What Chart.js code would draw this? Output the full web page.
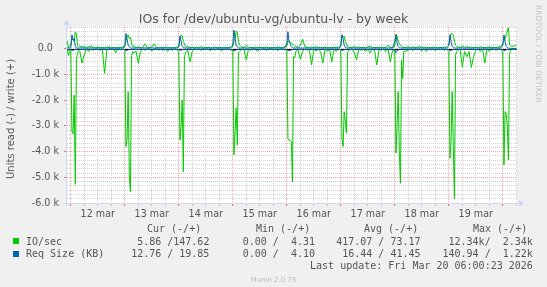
<!DOCTYPE html>
<html><head><meta charset="utf-8">
<script src="https://cdn.jsdelivr.net/npm/chart.js@4/dist/chart.umd.min.js"></script>
<style>
html,body{margin:0;padding:0;background:#F0F0F0;}
#wrap{position:relative;width:547px;height:287px;overflow:hidden;background:#F0F0F0;}
canvas{position:absolute;left:0;top:0;}
.t{position:absolute;white-space:pre;color:#555;font-family:'DejaVu Sans';}
.m{position:absolute;white-space:pre;color:#555;font-family:'DejaVu Sans Mono';font-size:10px;line-height:12px;}
.sq{position:absolute;width:6px;height:6px;}
</style></head><body>
<div id="wrap">
<canvas id="c" width="547" height="287"></canvas>
<div class="t" style="left:0;width:547px;text-align:center;top:11px;font-size:12.5px;line-height:16px;">IOs for /dev/ubuntu-vg/ubuntu-lv - by week</div>
<div class="t" style="left:533.5px;top:5px;font-size:7.6px;color:#c4c4c4;writing-mode:vertical-rl;line-height:9px;">RRDTOOL / TOBI OETIKER</div>
<div class="t" style="left:11px;top:119px;font-size:10px;line-height:12px;transform:translate(-50%,-50%) rotate(-90deg);">Units read (-) / write (+)</div>

<div class="m" style="left:147px;top:223px;">Cur (-/+)</div>
<div class="m" style="left:256px;top:223px;">Min (-/+)</div>
<div class="m" style="left:364px;top:223px;">Avg (-/+)</div>
<div class="m" style="left:473px;top:223px;">Max (-/+)</div>

<div class="sq" style="left:13px;top:238px;background:#00CC00;"></div>
<div class="m" style="left:26px;top:235.5px;">IO/sec</div>
<div class="m" style="right:337.6px;top:235.5px;">5.86 /147.62</div>
<div class="m" style="right:232px;top:235.5px;">0.00 /  4.31</div>
<div class="m" style="right:126.5px;top:235.5px;">417.07 / 73.17</div>
<div class="m" style="right:14.2px;top:235.5px;">12.34k/  2.34k</div>

<div class="sq" style="left:13px;top:251px;background:#0066B3;"></div>
<div class="m" style="left:26px;top:248px;">Req Size (KB)</div>
<div class="m" style="right:337.6px;top:248px;">12.76 / 19.85</div>
<div class="m" style="right:232px;top:248px;">0.00 /  4.10</div>
<div class="m" style="right:126.5px;top:248px;">16.44 / 41.45</div>
<div class="m" style="right:14.2px;top:248px;">140.94 /  1.22k</div>

<div class="m" style="right:14.2px;top:260.3px;">Last update: Fri Mar 20 06:00:23 2026</div>
<div class="t" style="left:0;width:547px;text-align:center;top:275.5px;font-size:7px;line-height:9px;color:#bbbbbb;">Munin 2.0.75</div>
</div>
<script>
// ---- tick labels ----
const xTickLabels = ['12 mar','13 mar','14 mar','15 mar','16 mar','17 mar','18 mar','19 mar'];
const yTickLabels = ['-6.0 k','-5.0 k','-4.0 k','-3.0 k','-2.0 k','-1.0 k','0.0  '];

// ---- sample times (hours since 12 mar 00:00) ----
const preHours = [-1.6, -1, -0.5];
const daySlots = [0,0.5,1,1.5,2,2.5,3,3.5,4,5,6,7,8,9,10,11,12,13,14,15,16,17,18,19,20,21,22,23];
const lastDaySlots = [0,0.5,1,1.5,2,2.5,3,3.5,4,5,6];
const fullDays = [0,1,2,3,4,5,6,7];
const lastDay = 8;

// ---- IO/sec read (drawn negative) ----
const ioRead = [
  0,-250,-20,
  -100,-3200,-3300,-1800,-5270,-400,-150,-50,-100,-550,-200,0,-100,0,-50,0,0,-60,0,-950,-50,0,0,0,-150,0,-30,0,
  -50,-3800,-3500,-1660,-5000,-5560,-250,-100,-150,-80,-550,-100,0,-50,0,0,-80,0,0,-40,0,-60,0,-100,0,-50,0,-20,
  -100,-3550,-3000,-1990,-4780,-300,-150,-80,-50,-500,-80,0,-30,0,-50,0,-20,0,-60,0,-40,0,0,-80,0,-30,0,-40,
  -50,-4130,-3200,-2310,-3740,-150,-100,-50,0,-30,-430,0,-50,0,0,-100,0,-30,0,-50,0,0,-40,0,-60,0,0,-30,
  -50,-3500,-3550,-3550,-3600,-5170,-300,-350,-100,-50,-400,-100,0,-50,0,-620,0,-80,0,-100,-550,0,-100,0,-500,0,-100,0,
  -50,-3500,-3800,-2440,-2800,-3280,-150,-50,-30,0,-150,-420,0,-50,0,-100,0,-150,0,-50,-620,0,-50,0,-100,0,-500,-50,
  -50,-4060,-3000,-1660,-4000,-5230,-430,-1140,-100,-80,-50,0,-60,0,-30,0,-80,0,-100,0,-40,0,-60,0,-30,0,-50,0,
  -100,-4260,-3600,-1660,-3800,-5820,-230,-100,-50,0,-690,-100,-300,-100,-720,-300,-50,0,-100,0,-550,0,-100,0,0,-50,0,0,
  -100,-4520,-2440,-2500,-3000,-4320,-200,-30,0,-10,-6
];
// ---- IO/sec write (positive) ----
const ioWrite = [
  300,60,100,
  150,400,350,300,670,600,150,100,120,80,100,60,90,120,70,60,80,50,70,40,60,90,50,60,40,70,60,80,
  100,300,500,550,400,450,200,100,120,60,80,50,70,200,60,50,80,200,60,40,70,50,60,80,50,40,60,70,
  80,400,550,500,300,200,100,80,90,60,70,50,80,60,90,50,60,70,40,60,80,50,70,60,40,50,60,70,
  100,300,400,700,650,300,150,100,80,60,150,70,60,50,80,60,70,50,60,80,40,70,50,60,80,50,60,90,
  100,300,300,250,250,200,150,100,120,60,150,380,100,70,60,80,50,90,60,70,50,80,60,50,70,60,80,60,
  150,550,450,500,300,200,100,80,60,70,90,60,80,50,70,60,80,120,60,50,70,60,80,50,60,150,70,60,
  100,580,500,300,200,150,100,80,70,60,90,50,80,60,70,100,60,80,50,70,60,80,50,70,60,50,80,60,
  150,400,600,600,550,300,150,100,80,60,120,70,90,60,80,50,70,60,90,60,50,70,80,60,70,60,80,100,
  200,300,400,550,700,830,150,120,100,120,148
];
// ---- Req Size (KB) read (drawn negative) ----
const reqRead = [
  -15,-12,-18,
  -20,-60,-45,-30,-20,-15,-12,-15,-18,-14,-16,-12,-15,-17,-13,-15,-16,-14,-12,-15,-17,-13,-15,-14,-16,-12,-15,-14,
  -18,-70,-50,-35,-22,-16,-14,-12,-15,-17,-13,-15,-16,-14,-12,-15,-17,-13,-15,-14,-16,-12,-15,-14,-13,-15,-16,-14,
  -16,-55,-40,-28,-20,-15,-13,-16,-14,-12,-15,-17,-13,-15,-16,-14,-12,-15,-17,-13,-15,-14,-16,-12,-15,-14,-13,-15,
  -20,-80,-55,-35,-25,-16,-14,-12,-15,-17,-13,-15,-16,-14,-12,-15,-17,-13,-15,-14,-16,-12,-15,-14,-13,-15,-16,-14,
  -18,-65,-60,-55,-40,-20,-15,-13,-16,-14,-12,-15,-17,-13,-15,-16,-14,-12,-15,-17,-13,-15,-14,-16,-12,-15,-14,-13,
  -16,-60,-45,-30,-22,-16,-14,-12,-15,-17,-13,-15,-16,-14,-12,-15,-17,-13,-15,-14,-16,-12,-15,-14,-13,-15,-16,-14,
  -20,-141,-70,-40,-25,-18,-14,-12,-15,-17,-13,-15,-16,-14,-12,-15,-17,-13,-15,-14,-16,-12,-15,-14,-13,-15,-16,-14,
  -18,-75,-50,-35,-22,-16,-14,-12,-15,-17,-13,-15,-16,-14,-12,-15,-17,-13,-15,-14,-16,-12,-15,-14,-13,-15,-16,-14,
  -18,-70,-45,-30,-20,-16,-14,-13,-12,-13,-13
];
// ---- Req Size (KB) write (positive) ----
const reqWrite = [
  60,40,40,
  50,550,350,400,100,40,40,35,40,45,40,35,40,45,40,38,42,40,36,40,44,40,38,42,40,36,40,42,
  100,600,400,150,80,50,40,38,42,40,45,38,40,42,36,40,44,38,40,42,40,38,44,40,36,42,40,38,
  100,500,300,100,60,45,40,42,38,40,44,40,36,42,40,38,40,44,40,36,42,40,38,40,44,40,38,42,
  150,740,400,150,80,50,42,40,38,44,40,36,42,40,38,40,44,40,38,42,40,36,40,42,38,44,40,40,
  200,670,300,200,100,50,42,38,40,44,40,38,42,40,36,40,42,38,44,40,38,42,40,36,40,44,38,40,
  100,550,400,150,60,45,40,42,38,40,44,38,40,42,40,36,44,40,38,42,40,38,40,44,36,40,42,38,
  300,550,250,100,50,42,40,38,44,40,36,42,40,38,40,44,40,36,42,40,38,40,44,38,40,42,36,40,
  150,550,300,100,50,44,40,38,42,40,44,36,40,42,38,40,44,40,36,42,40,38,42,40,44,38,40,42,
  150,550,300,100,50,40,30,25,22,20,20
];

// time grid assembled from the slot lists above
const hours = preHours.slice();
fullDays.forEach(d => daySlots.forEach(s => hours.push(d * 24 + s)));
lastDaySlots.forEach(s => hours.push(lastDay * 24 + s));
const pts = arr => arr.map((v, i) => ({x: hours[i], y: v}));

// grid/tick positions
const xTickHours = [];
for (let h = 0; h <= 198; h += 6) xTickHours.push(h);
const yTickValues = [];
for (let i = 0; i <= 41; i++) yTickValues.push(-6000 + i * 1000 / 6);

const MGRID = '#F0A8A8', GRID = '#D2D2D2', AXIS = '#CFD6F8';
const isMajorY = v => Math.abs(v / 1000 - Math.round(v / 1000)) < 1e-6;

const munin = {
  id: 'munin',
  beforeDraw(c) {
    const {ctx, chartArea: a} = c;
    ctx.save();
    ctx.fillStyle = '#FFFFFF';
    ctx.fillRect(a.left, a.top, a.right - a.left, a.bottom - a.top);
    ctx.restore();
  },
  beforeDatasetsDraw(c) {
    const {ctx, chartArea: a} = c;
    const y0 = Math.round(c.scales.y.getPixelForValue(0)) + 0.5;
    ctx.save();
    ctx.strokeStyle = '#000000';
    ctx.lineWidth = 1;
    ctx.beginPath(); ctx.moveTo(a.left, y0); ctx.lineTo(a.right, y0); ctx.stroke();
    ctx.restore();
  },
  afterDraw(c) {
    const {ctx, chartArea: a} = c;
    ctx.save();
    ctx.strokeStyle = AXIS; ctx.fillStyle = AXIS; ctx.lineWidth = 1;
    const xl = a.left - 0.5, yb = a.bottom + 0.5;
    ctx.beginPath(); ctx.moveTo(a.left - 4, yb); ctx.lineTo(a.right + 2, yb); ctx.stroke();
    ctx.beginPath(); ctx.moveTo(xl, a.bottom + 3); ctx.lineTo(xl, a.top - 2); ctx.stroke();
    ctx.beginPath(); ctx.moveTo(a.right + 2, yb - 3.5); ctx.lineTo(a.right + 7, yb); ctx.lineTo(a.right + 2, yb + 3.5); ctx.closePath(); ctx.fill();
    ctx.beginPath(); ctx.moveTo(xl - 3.5, a.top - 2); ctx.lineTo(xl, a.top - 7); ctx.lineTo(xl + 3.5, a.top - 2); ctx.closePath(); ctx.fill();
    ctx.restore();
  }
};

const tickFont = {family: 'DejaVu Sans', size: 9.6};
const lineDs = (label, data, color, order) => ({
  label, data: pts(data), borderColor: color, backgroundColor: color,
  borderWidth: 1, pointRadius: 0, tension: 0, fill: false, order,
  borderJoinStyle: 'round'
});

new Chart(document.getElementById('c'), {
  type: 'line',
  data: {
    datasets: [
      lineDs('Req Size (KB) read', reqRead, '#0066B3', 0),
      lineDs('Req Size (KB) write', reqWrite, '#0066B3', 0),
      lineDs('IO/sec read', ioRead, '#00CC00', 1),
      lineDs('IO/sec write', ioWrite, '#00CC00', 1)
    ]
  },
  options: {
    responsive: false, animation: false, devicePixelRatio: 1,
    layout: {padding: {top: 27, right: 30, bottom: 64, left: 0}},
    plugins: {legend: {display: false}, tooltip: {enabled: false}, title: {display: false}},
    scales: {
      x: {
        type: 'linear', min: -1.7, max: 198.3,
        afterBuildTicks: s => { s.ticks = xTickHours.map(v => ({value: v})); },
        afterFit: s => { s.height = 20; s.paddingLeft = 0; s.paddingRight = 0; },
        ticks: {
          autoSkip: false, maxRotation: 0, minRotation: 0, padding: 3,
          color: '#555', font: tickFont,
          callback: v => (v % 24 === 12 ? xTickLabels[(v - 12) / 24] : '')
        },
        grid: {
          color: ctx => (ctx.tick && ctx.tick.value % 24 === 0 ? MGRID : GRID),
          tickColor: ctx => (ctx.tick && ctx.tick.value % 24 === 0 ? '#E07070' : '#C8C8C8'),
          lineWidth: 1, drawTicks: true, tickLength: 3
        },
        border: {display: false, dash: [1, 1]}
      },
      y: {
        type: 'linear', min: -6000, max: 857,
        afterBuildTicks: s => { s.ticks = yTickValues.map(v => ({value: v})); },
        afterFit: s => { s.width = 67; s.paddingTop = 0; s.paddingBottom = 0; },
        ticks: {
          autoSkip: false, padding: 5, color: '#555', font: tickFont,
          callback: v => (isMajorY(v) ? yTickLabels[Math.round(v / 1000) + 6] : '')
        },
        grid: {
          color: ctx => (ctx.tick && isMajorY(ctx.tick.value) ? MGRID : GRID),
          tickColor: ctx => (ctx.tick && isMajorY(ctx.tick.value) ? '#E07070' : 'rgba(0,0,0,0)'),
          lineWidth: 1, drawTicks: true, tickLength: 3
        },
        border: {display: false, dash: [1, 1]}
      }
    }
  },
  plugins: [munin]
});
</script>
</body></html>
